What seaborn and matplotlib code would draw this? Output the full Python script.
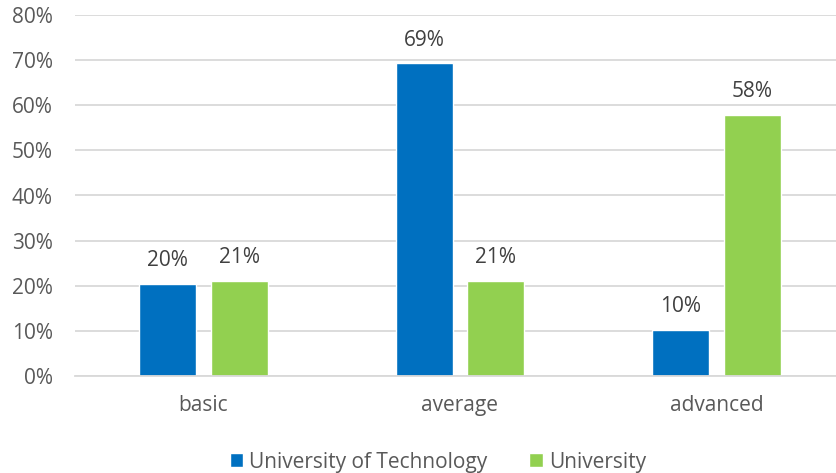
import matplotlib
matplotlib.use("Agg")
import matplotlib.pyplot as plt
import seaborn as sns
import pandas as pd
from matplotlib.ticker import PercentFormatter

levels = ["basic", "average", "advanced"]
tech_values = [0.204, 0.693, 0.102]
univ_values = [0.211, 0.211, 0.579]
series = ["University of Technology", "University"]
colors = ["#0070C0", "#92D050"]

df = pd.DataFrame({
    "level": levels * 2,
    "share": tech_values + univ_values,
    "school": [series[0]] * 3 + [series[1]] * 3,
})

sns.set_theme(style="white")
plt.rcParams["font.family"] = ["Open Sans", "DejaVu Sans"]
text_color = "#595959"
grid_color = "#D9D9D9"

fig = plt.figure(figsize=(8.37, 4.73), dpi=100)
ax = fig.add_axes([75 / 837, 1 - 376 / 473, 770 / 837, 361 / 473])

sns.barplot(data=df, x="level", y="share", hue="school", order=levels,
            hue_order=series, palette=colors, width=0.56, gap=0.207,
            saturation=1, ax=ax, legend=True)

for cont in ax.containers:
    ax.bar_label(cont, labels=[f"{v * 100:.0f}%" for v in cont.datavalues],
                 padding=9, fontsize=15, color="#404040")

ax.set_ylim(0, 0.8)
ax.set_yticks([i / 10 for i in range(9)])
ax.yaxis.set_major_formatter(PercentFormatter(1.0, decimals=0))
ax.set_xlim(-0.5, 2.5)
ax.grid(axis="y", color=grid_color, linewidth=1.3)
ax.set_axisbelow(True)
for side in ["top", "right", "left"]:
    ax.spines[side].set_visible(False)
ax.spines["bottom"].set_color(grid_color)
ax.spines["bottom"].set_linewidth(1.3)
ax.tick_params(axis="y", length=0, pad=16, labelsize=15, labelcolor=text_color)
ax.tick_params(axis="x", length=0, pad=14, labelsize=15, labelcolor=text_color)
ax.set_xlabel("")
ax.set_ylabel("")

ax.legend(loc="lower center", bbox_to_anchor=(438 / 837, -8 / 473), bbox_transform=fig.transFigure,
          ncol=2, frameon=False, fontsize=15, handlelength=0.65, handleheight=0.65,
          handletextpad=0.3, columnspacing=2.0, labelcolor=text_color,
          borderaxespad=0.0)

fig.savefig("out.png", dpi=100)
